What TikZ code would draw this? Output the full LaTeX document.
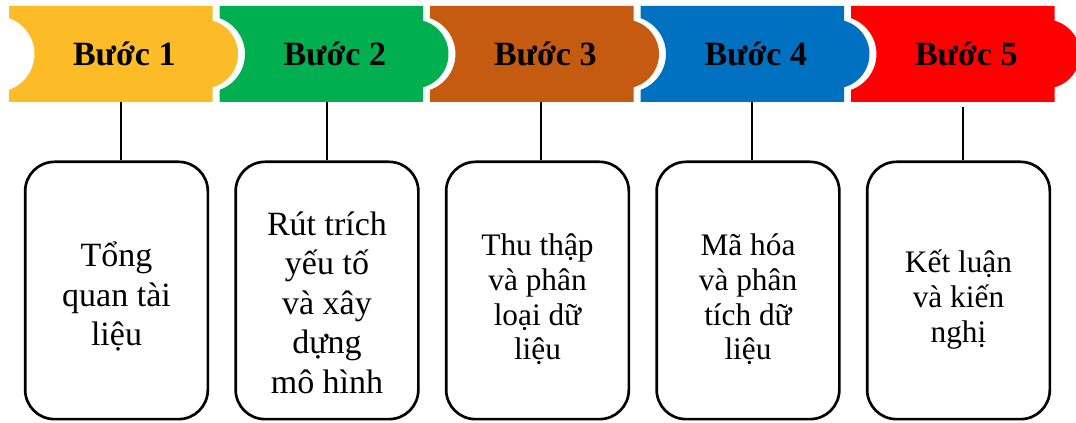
\documentclass[tikz,border=0pt]{standalone}
\usepackage{fontspec}
\setmainfont{Liberation Serif}
\usetikzlibrary{calc}
\definecolor{stepone}{HTML}{FBBC28}
\definecolor{steptwo}{HTML}{00B050}
\definecolor{stepthree}{HTML}{C55A11}
\definecolor{stepfour}{HTML}{0070C0}
\definecolor{stepfive}{HTML}{FF0000}
\tikzset {
    banner/.pic = {
        \fill (0, 0) -- (203.5, 0) -- (203.5, 14.7)
            arc [start angle = -74.9, end angle = 74.9, radius = 34.5]
            -- (203.5, 96) -- (0, 96) -- (0, 83.885)
            arc [start angle = 70.8, end angle = -70.8, radius = 38]
            -- cycle;
    },
    steplabel/.style = {font = \bfseries\fontsize{25.5}{30}\selectfont},
    stepbox/.style = {
        draw, line width = 2pt, rounded corners = 22pt,
        minimum width = 137pt, minimum height = 193pt
    },
    big text/.style = {align = center, font = \fontsize{25.5}{29.6}\selectfont},
    small text/.style = {align = center, font = \fontsize{23.5}{26}\selectfont},
    link/.style = {line width = 2.2pt}
}
\begin{document}
\begin{tikzpicture}[x = 0.75pt, y = -0.75pt]
    \clip (0, 0) rectangle (1076, 423);
    % banners
    \pic [fill = stepone] at (9, 6) {banner};
    \pic [fill = steptwo] at (219.5, 6) {banner};
    \pic [fill = stepthree] at (430, 6) {banner};
    \pic [fill = stepfour] at (640.5, 6) {banner};
    \pic [fill = stepfive] at (851, 6) {banner};
    \node [steplabel] (h1) at (124.25, 54) {Bước 1};
    \node [steplabel] (h2) at (334.75, 54) {Bước 2};
    \node [steplabel] (h3) at (545.25, 54) {Bước 3};
    \node [steplabel] (h4) at (755.75, 54) {Bước 4};
    \node [steplabel] (h5) at (966.25, 54) {Bước 5};
    % boxes
    \node [stepbox] (b1) at (116.5, 290.5) {};
    \node [stepbox] (b2) at (327, 290.5) {};
    \node [stepbox] (b3) at (537.5, 290.5) {};
    \node [stepbox] (b4) at (748, 290.5) {};
    \node [stepbox] (b5) at (958.5, 290.5) {};
    \node [big text] (t1) at ($(b1) + (0, 6)$) {Tổng\\quan tài\\liệu};
    \node [big text] (t2) at ($(b2) + (0, 12)$) {Rút trích\\yếu tố\\và xây\\dựng\\mô hình};
    \node [small text] (t3) at ($(b3) + (0, 9)$) {Thu thập\\và phân\\loại dữ\\liệu};
    \node [small text] (t4) at ($(b4) + (0, 9)$) {Mã hóa\\và phân\\tích dữ\\liệu};
    \node [small text] (t5) at ($(b5) + (0, 9)$) {Kết luận\\và kiến\\nghị};
    % links
    \coordinate (c1) at (121, 102);
    \coordinate (c2) at (327, 102);
    \coordinate (c3) at (541, 102);
    \coordinate (c4) at (752, 102);
    \coordinate (c5) at (963, 107);
    \draw [link] (c1) -- (c1 |- b1.north);
    \draw [link] (c2) -- (c2 |- b2.north);
    \draw [link] (c3) -- (c3 |- b3.north);
    \draw [link] (c4) -- (c4 |- b4.north);
    \draw [link] (c5) -- (c5 |- b5.north);
\end{tikzpicture}
\end{document}
